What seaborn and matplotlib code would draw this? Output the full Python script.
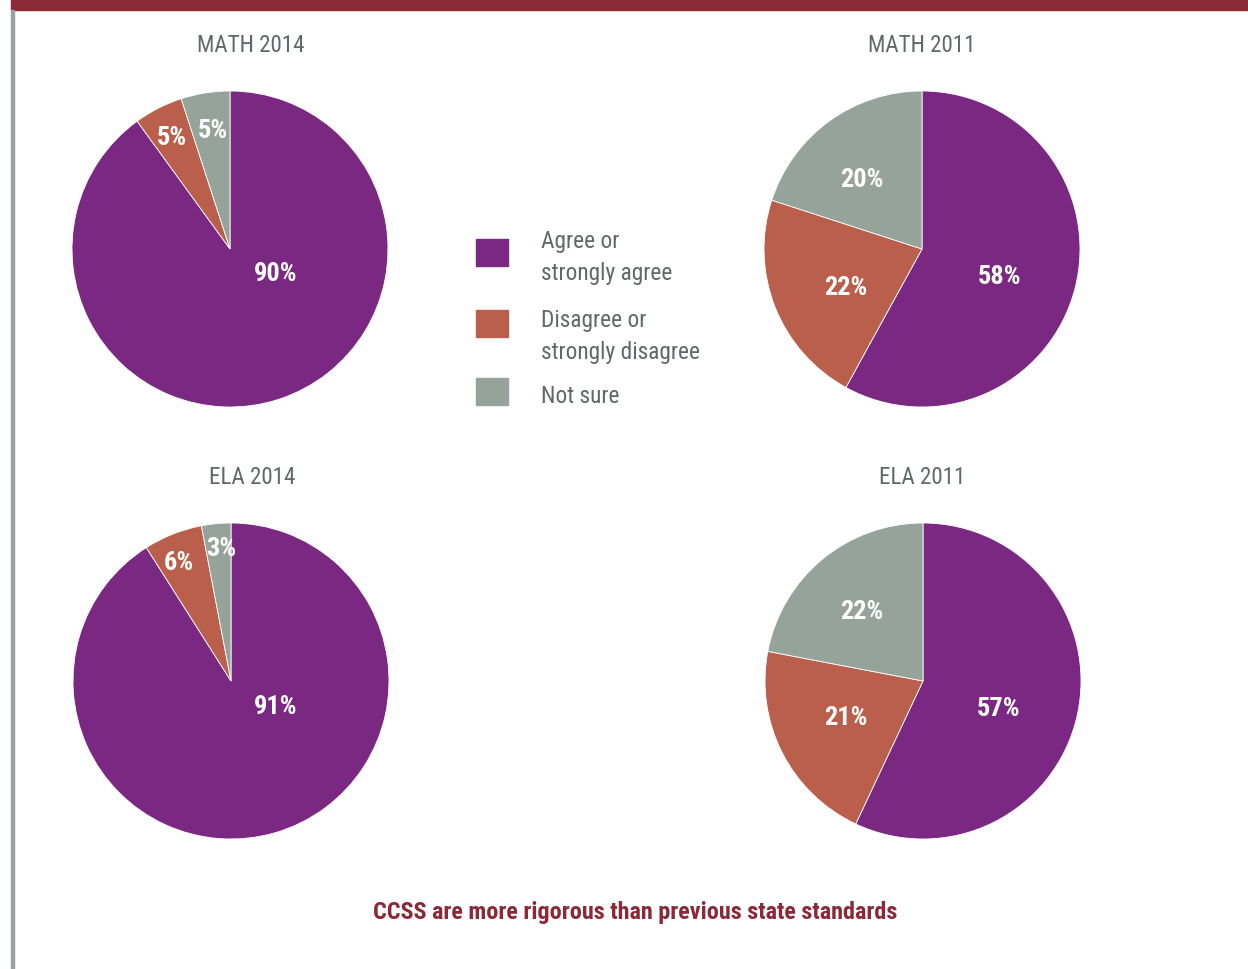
"""
Pies : CCSS plus rigoureux que les anciens standards.
"""
import matplotlib
matplotlib.use("Agg")
import matplotlib.pyplot as plt
from matplotlib.patches import Rectangle
import seaborn as sns

# donnees
categories = ["Agree or\nstrongly agree", "Disagree or\nstrongly disagree", "Not sure"]
titles = ["MATH 2014", "MATH 2011", "ELA 2014", "ELA 2011"]
math_2014 = [90, 5, 5]
math_2011 = [58, 22, 20]
ela_2014 = [91, 6, 3]
ela_2011 = [57, 21, 22]
caption = "CCSS are more rigorous than previous state standards"

sns.set_theme(style="white")
plt.rcParams['font.family'] = ['Roboto Condensed', 'Lato', 'DejaVu Sans']

palette = sns.color_palette(["#7b2882", "#b95f4b", "#95a39b"])
TXT = "#5e6a65"
RED = "#8b2a37"

W, H = 1248, 970
fig = plt.figure(figsize=(W / 100, H / 100), dpi=100)

# bandeau du haut et trait gauche
fig.patches.append(Rectangle((11 / W, 1 - 11 / H), 1, 11 / H, transform=fig.transFigure,
                             color=RED, zorder=0))
fig.patches.append(Rectangle((11 / W, 0), 3 / W, 1 - 11 / H, transform=fig.transFigure,
                             color="#9aa1a3", zorder=0))

R = 158
# centre (px), position du titre (px), positions des etiquettes (rayon = 1)
layout = [
    ((230, 250), (251, 45), [(0.29, -0.15), (-0.37, 0.71), (-0.11, 0.75)]),
    ((922, 250), (922, 45), [(0.49, -0.17), (-0.48, -0.24), (-0.38, 0.44)]),
    ((231, 682), (252, 477), [(0.28, -0.16), (-0.33, 0.75), (-0.06, 0.84)]),
    ((923, 682), (922, 477), [(0.48, -0.17), (-0.49, -0.23), (-0.39, 0.44)]),
]
series = [math_2014, math_2011, ela_2014, ela_2011]

for vals, title, (center, tpos, lpos) in zip(series, titles, layout):
    cx, cy = center
    ax = fig.add_axes([(cx - R) / W, (H - cy - R) / H, 2 * R / W, 2 * R / H])
    ax.pie(vals, colors=palette, startangle=90, counterclock=False, radius=1,
           wedgeprops=dict(edgecolor="white", linewidth=0.6))
    ax.set_xlim(-1, 1)
    ax.set_ylim(-1, 1)
    ax.set_aspect("equal")
    ax.axis("off")
    for v, (x, y) in zip(vals, lpos):
        ax.text(x, y, f"{v}%", ha="center", va="center", color="white",
                fontsize=19, fontweight="bold")
    fig.text(tpos[0] / W, 1 - tpos[1] / H, title, ha="center", va="center",
             color=TXT, fontsize=16.6)

# legende manuelle
patch_top = [240, 311, 379]
text_mid = [258, 336, 397]
for cat, col, yp, yt in zip(categories, palette, patch_top, text_mid):
    fig.patches.append(Rectangle((476 / W, 1 - (yp + 27) / H), 32 / W, 27 / H,
                                 transform=fig.transFigure, color=col))
    fig.text(541 / W, 1 - yt / H, cat, ha="left", va="center", color=TXT,
             fontsize=16.8, linespacing=1.5)

fig.text(635 / W, 1 - 913 / H, caption, ha="center", va="center", color=RED,
         fontsize=17.4, fontweight="bold")

fig.savefig("out.png", dpi=100)
